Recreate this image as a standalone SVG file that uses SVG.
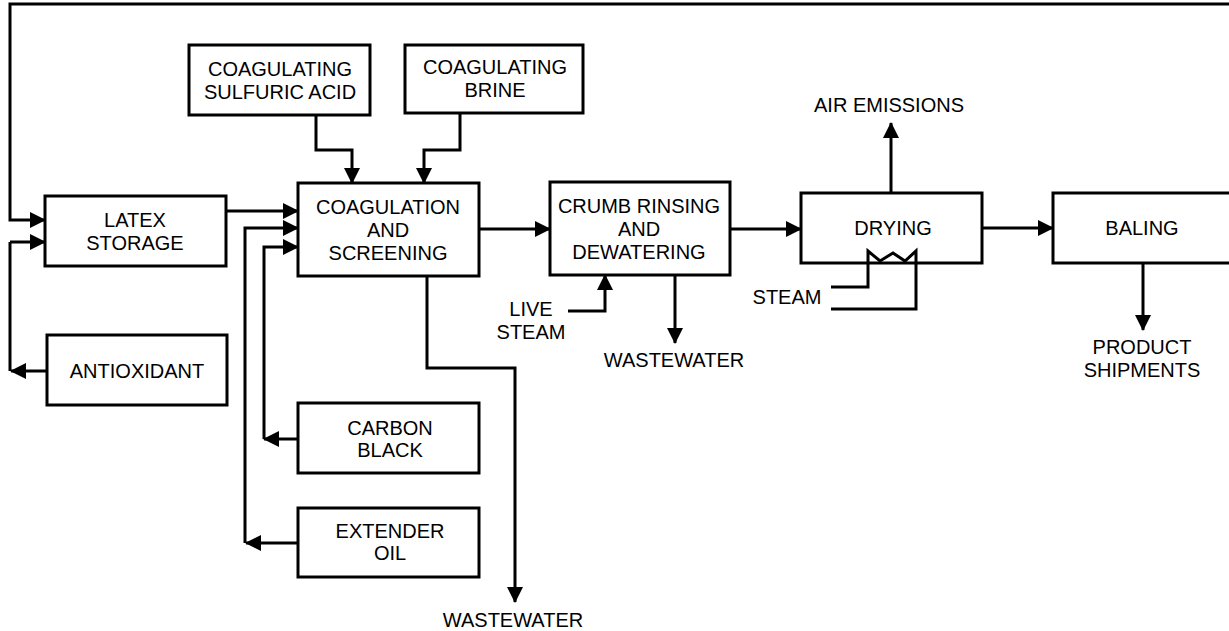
<svg xmlns="http://www.w3.org/2000/svg" width="1229" height="631" viewBox="0 0 1229 631">
<defs>
<marker id="ah" markerWidth="16" markerHeight="16" viewBox="0 0 16 16" refX="15" refY="8" orient="auto" markerUnits="userSpaceOnUse">
<path d="M0,0 L16,8 L0,16 Z" fill="#000"/>
</marker>
<style>
.box{fill:#fff;stroke:#000;stroke-width:3}
.ln{fill:none;stroke:#000;stroke-width:3}
.ar{fill:none;stroke:#000;stroke-width:3;marker-end:url(#ah)}
text{font-family:"Liberation Sans",Arial,sans-serif;font-size:20px;fill:#000;text-anchor:middle;dominant-baseline:central}
</style>
</defs>
<rect width="1229" height="631" fill="#fff"/>
<g id="latex"><rect class="box" x="45" y="196" width="181" height="70"/><text x="135" y="220">LATEX</text><text x="135" y="243">STORAGE</text></g>
<g id="antioxidant"><rect class="box" x="47" y="335" width="180" height="70"/><text x="137" y="371">ANTIOXIDANT</text></g>
<g id="sulfuric"><rect class="box" x="189" y="45" width="181" height="70"/><text x="280" y="69">COAGULATING</text><text x="280" y="92">SULFURIC ACID</text></g>
<g id="brine"><rect class="box" x="405" y="45" width="178" height="68"/><text x="495" y="67">COAGULATING</text><text x="495" y="90">BRINE</text></g>
<g id="coagulation"><rect class="box" x="298" y="183" width="181" height="93"/><text x="388" y="207">COAGULATION</text><text x="388" y="230">AND</text><text x="388" y="253">SCREENING</text></g>
<g id="carbon"><rect class="box" x="298" y="403" width="181" height="70"/><text x="390" y="428">CARBON</text><text x="390" y="450">BLACK</text></g>
<g id="extender"><rect class="box" x="298" y="508" width="181" height="69"/><text x="390" y="531">EXTENDER</text><text x="390" y="553">OIL</text></g>
<g id="crumb"><rect class="box" x="550" y="182" width="180" height="93"/><text x="639" y="206">CRUMB RINSING</text><text x="639" y="229">AND</text><text x="639" y="252">DEWATERING</text></g>
<g id="drying"><rect class="box" x="801" y="193" width="181" height="70"/><text x="893" y="228">DRYING</text></g>
<g id="baling"><rect class="box" x="1053" y="193" width="190" height="70"/><text x="1142" y="228">BALING</text></g>
<g id="connectors">
<path class="ar" d="M1229,4 L10,4 L10,220 L45,220"/>
<path class="ln" d="M10,371 L10,242"/>
<path class="ar" d="M10,242 L45,242"/>
<path class="ar" d="M47,371 L11,371"/>
<path class="ar" d="M226,211 L298,211"/>
<path class="ar" d="M316,115 L316,150 L352,150 L352,183"/>
<path class="ar" d="M460,113 L460,150 L424,150 L424,183"/>
<path class="ar" d="M245,543 L245,228 L298,228"/>
<path class="ar" d="M264,439 L264,247 L298,247"/>
<path class="ar" d="M298,439 L264,439"/>
<path class="ar" d="M298,543 L246,543"/>
<path class="ar" d="M427,276 L427,368 L515,368 L515,602"/>
<path class="ar" d="M479,229 L550,229"/>
<path class="ar" d="M568,311 L605,311 L605,275"/>
<path class="ar" d="M675,275 L675,343"/>
<path class="ar" d="M730,229 L801,229"/>
<path class="ar" d="M891,193 L891,123"/>
<path class="ar" d="M982,228 L1053,228"/>
<path class="ar" d="M1143,263 L1143,330"/>
<path class="ln" d="M831,287 L868,287 L868,251 L880,261 L893,253 L905,261 L916,251 L916,309 L831,309"/>
</g>
<g id="labels">
<text x="531" y="309">LIVE</text><text x="531" y="332">STEAM</text>
<text x="674" y="360">WASTEWATER</text>
<text x="513" y="620">WASTEWATER</text>
<text x="787" y="297">STEAM</text>
<text x="889" y="105">AIR EMISSIONS</text>
<text x="1142" y="347">PRODUCT</text><text x="1142" y="370">SHIPMENTS</text>
</g>
</svg>
